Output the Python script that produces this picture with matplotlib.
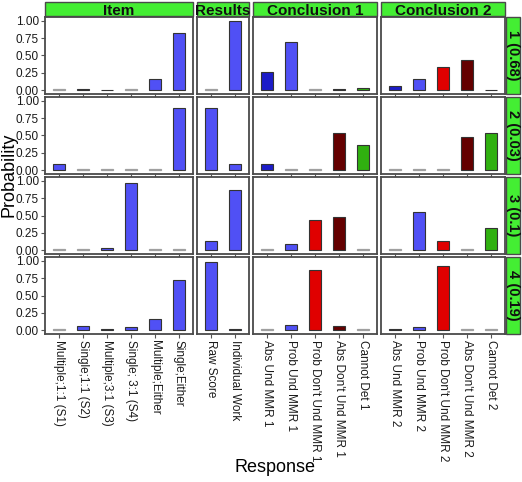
import numpy as np
import matplotlib
matplotlib.use("Agg")
import matplotlib.pyplot as plt
from matplotlib.patches import Rectangle

plt.rcParams['font.family'] = ['Liberation Sans', 'DejaVu Sans']

# facets (columns) and their response categories
facets = ["Item", "Results", "Conclusion 1", "Conclusion 2"]
item_cats = ["Multiple;1:1 (S1)", "Single;1:1 (S2)", "Multiple;3:1 (S3)",
             "Single; 3:1 (S4)", "Multiple;Either", "Single;Either"]
results_cats = ["Raw Score", "Individual Work"]
conc1_cats = ["Abs Und MMR 1", "Prob Und MMR 1", "Prob Don't Und MMR 1",
              "Abs Don't Und MMR 1", "Cannot Det 1"]
conc2_cats = ["Abs Und MMR 2", "Prob Und MMR 2", "Prob Don't Und MMR 2",
              "Abs Don't Und MMR 2", "Cannot Det 2"]
categories = [item_cats, results_cats, conc1_cats, conc2_cats]

# latent classes (rows)
classes = ["1 (0.68)", "2 (0.03)", "3 (0.1)", "4 (0.19)"]

# probabilities, one list per class and facet (None = greyed / ~0)
item_vals = [
    [None, 0.02, 0.005, None, 0.16, 0.82],
    [0.09, None, None, None, None, 0.90],
    [None, None, 0.03, 0.97, None, None],
    [None, 0.06, 0.015, 0.04, 0.16, 0.72],
]
results_vals = [
    [None, 1.00],
    [0.90, 0.09],
    [0.13, 0.87],
    [0.98, 0.02],
]
conc1_vals = [
    [0.26, 0.69, None, 0.01, 0.03],
    [0.09, None, None, 0.54, 0.36],
    [None, 0.09, 0.44, 0.48, None],
    [None, 0.07, 0.87, 0.06, None],
]
conc2_vals = [
    [0.06, 0.16, 0.33, 0.44, 0.005],
    [None, None, None, 0.48, 0.53],
    [None, 0.55, 0.13, None, 0.32],
    [0.015, 0.05, 0.93, None, None],
]
values = [item_vals, results_vals, conc1_vals, conc2_vals]

blue = "#5050f5"
dark_blue = "#1c1cc8"
red = "#e00000"
dark_red = "#640000"
green = "#30b010"
conc_cols = [dark_blue, blue, red, dark_red, green]
facet_colors = [[blue] * 6, [blue] * 2, conc_cols, conc_cols]
grey_fill = "#b4b4b4"
strip_green = "#44ee33"
border = "#4a4a4a"

W, H = 522, 482
fig = plt.figure(figsize=(W / 100, H / 100), dpi=100)
widths = [len(c) + 0.2 for c in categories]
gs = fig.add_gridspec(4, 4, left=45 / W, right=505 / W, top=1 - 17 / H,
                      bottom=1 - 334 / H, width_ratios=widths,
                      wspace=0.031, hspace=0.04)

for r in range(4):
    for c in range(4):
        ax = fig.add_subplot(gs[r, c])
        cats = categories[c]
        x = np.arange(len(cats))
        for i, v in enumerate(values[c][r]):
            if v is None:
                ax.bar(x[i], 0.01, width=0.5, color=grey_fill,
                       edgecolor="#a0a0a0", linewidth=0.9)
            else:
                ax.bar(x[i], v, width=0.5, color=facet_colors[c][i],
                       edgecolor="#333333", linewidth=0.8)
        ax.set_xlim(-0.6, len(cats) - 0.4)
        ax.set_ylim(-0.055, 1.055)
        ax.set_yticks([0, 0.25, 0.5, 0.75, 1.0])
        ax.set_xticks(x)
        for s in ax.spines.values():
            s.set_color(border)
            s.set_linewidth(1.3)
        ax.tick_params(length=3, width=0.8, color="#555555",
                       labelsize=8.5, labelcolor="#1a1a1a", pad=1.5)
        if c == 0:
            ax.set_yticklabels(["0.00", "0.25", "0.50", "0.75", "1.00"])
        else:
            ax.tick_params(axis="y", left=False, labelleft=False)
        if r == 3:
            ax.set_xticklabels(cats, rotation=270, va="top", ha="center")
        else:
            ax.tick_params(axis="x", labelbottom=False)

        hgt = 14 / 77
        if r == 0:
            ax.add_patch(Rectangle((0, 1 + 0.013), 1, hgt, transform=ax.transAxes,
                                   facecolor=strip_green, edgecolor=border,
                                   linewidth=1.0, clip_on=False))
            ax.text(0.5, 1 + 0.013 + hgt / 2, facets[c], transform=ax.transAxes,
                    ha="center", va="center_baseline", fontsize=11,
                    fontweight="bold", color="#111111")
        if c == 3:
            bw = 14 / 125
            ax.add_patch(Rectangle((1 + 0.008, 0), bw, 1, transform=ax.transAxes,
                                   facecolor=strip_green, edgecolor=border,
                                   linewidth=1.0, clip_on=False))
            ax.text(1 + 0.008 + bw / 2, 0.5, classes[r], transform=ax.transAxes,
                    ha="center", va="center", rotation=270, fontsize=10.5,
                    fontweight="bold", color="#111111")

fig.text(9 / W, 1 - 175 / H, "Probability", rotation=90, ha="center",
         va="center", fontsize=13)
fig.text(275 / W, 1 - 468 / H, "Response", ha="center", va="center",
         fontsize=13)

fig.savefig("out.png", dpi=100)
